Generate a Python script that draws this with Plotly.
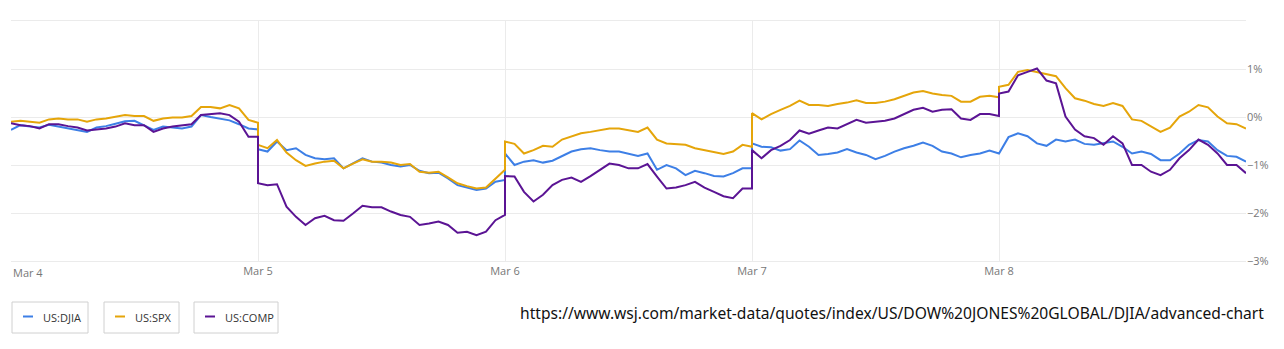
import pandas as pd
import plotly.graph_objects as go

# ---------------- data ----------------
DAYS = ["Mar 4", "Mar 5", "Mar 6", "Mar 7", "Mar 8"]
SESSION_OPEN = "09:30"
SESSION_CLOSE = "16:00"
STEP_MIN = 15

SERIES_NAMES = ["US:DJIA", "US:SPX", "US:COMP"]

# % change, one row per session (15-minute samples, 09:30 .. 16:00)
DJIA = [
    -0.27, -0.17, -0.20, -0.22, -0.16, -0.20, -0.24, -0.28, -0.31, -0.22, -0.19, -0.14, -0.09, -0.08, -0.17, -0.27, -0.20, -0.22, -0.24, -0.20, 0.04, 0.00, -0.03, -0.07, -0.15, -0.24, -0.26,
    -0.67, -0.72, -0.51, -0.69, -0.65, -0.79, -0.86, -0.88, -0.86, -1.07, -0.97, -0.86, -0.93, -0.95, -1.00, -1.03, -1.00, -1.12, -1.17, -1.16, -1.28, -1.42, -1.47, -1.52, -1.49, -1.35, -1.31,
    -0.76, -1.00, -0.93, -0.90, -0.95, -0.91, -0.81, -0.72, -0.67, -0.65, -0.69, -0.72, -0.72, -0.76, -0.81, -0.76, -1.10, -1.00, -1.07, -1.21, -1.12, -1.17, -1.23, -1.24, -1.17, -1.07, -1.07,
    -0.55, -0.62, -0.63, -0.70, -0.67, -0.49, -0.62, -0.79, -0.77, -0.74, -0.67, -0.74, -0.79, -0.88, -0.81, -0.72, -0.65, -0.60, -0.53, -0.60, -0.72, -0.76, -0.84, -0.79, -0.76, -0.70, -0.76,
    -0.76, -0.42, -0.34, -0.40, -0.55, -0.60, -0.47, -0.51, -0.47, -0.56, -0.58, -0.55, -0.51, -0.62, -0.76, -0.72, -0.77, -0.90, -0.90, -0.76, -0.58, -0.48, -0.51, -0.69, -0.81, -0.83, -0.93,
]
SPX = [
    -0.10, -0.08, -0.10, -0.12, -0.05, -0.03, -0.05, -0.05, -0.10, -0.05, -0.03, 0.01, 0.04, 0.02, 0.02, -0.08, -0.03, -0.01, -0.01, 0.02, 0.21, 0.21, 0.18, 0.25, 0.18, -0.06, -0.12,
    -0.58, -0.65, -0.48, -0.74, -0.90, -1.02, -0.97, -0.93, -0.91, -1.07, -0.97, -0.88, -0.93, -0.93, -0.95, -1.00, -0.98, -1.14, -1.16, -1.14, -1.26, -1.38, -1.44, -1.49, -1.47, -1.28, -1.10,
    -0.51, -0.56, -0.76, -0.69, -0.60, -0.62, -0.47, -0.40, -0.34, -0.31, -0.27, -0.24, -0.24, -0.28, -0.31, -0.22, -0.47, -0.55, -0.56, -0.58, -0.65, -0.69, -0.74, -0.77, -0.72, -0.58, -0.62,
    0.08, -0.05, 0.06, 0.15, 0.23, 0.34, 0.25, 0.25, 0.23, 0.27, 0.30, 0.35, 0.29, 0.29, 0.32, 0.37, 0.44, 0.51, 0.54, 0.49, 0.46, 0.44, 0.32, 0.32, 0.42, 0.44, 0.41,
    0.63, 0.67, 0.94, 0.98, 0.94, 0.90, 0.85, 0.60, 0.39, 0.34, 0.27, 0.23, 0.29, 0.23, -0.05, -0.08, -0.20, -0.31, -0.22, 0.01, 0.11, 0.25, 0.20, 0.01, -0.13, -0.15, -0.24,
]
COMP = [
    -0.13, -0.17, -0.19, -0.24, -0.15, -0.15, -0.19, -0.22, -0.28, -0.26, -0.24, -0.20, -0.13, -0.17, -0.17, -0.31, -0.24, -0.20, -0.17, -0.15, 0.04, 0.06, 0.08, 0.04, -0.10, -0.41, -0.41,
    -1.38, -1.42, -1.40, -1.87, -2.08, -2.25, -2.11, -2.06, -2.15, -2.16, -2.01, -1.85, -1.88, -1.88, -1.97, -2.04, -2.08, -2.25, -2.22, -2.18, -2.25, -2.41, -2.39, -2.46, -2.39, -2.15, -2.04,
    -1.23, -1.24, -1.56, -1.76, -1.62, -1.42, -1.31, -1.26, -1.35, -1.23, -1.10, -0.97, -1.00, -1.07, -1.07, -0.98, -1.24, -1.49, -1.47, -1.42, -1.35, -1.47, -1.56, -1.65, -1.69, -1.49, -1.49,
    -0.69, -0.86, -0.69, -0.60, -0.48, -0.28, -0.35, -0.28, -0.22, -0.24, -0.15, -0.06, -0.12, -0.10, -0.08, -0.03, 0.06, 0.15, 0.19, 0.11, 0.15, 0.16, -0.03, -0.06, 0.06, 0.06, 0.02,
    0.49, 0.53, 0.87, 0.94, 1.01, 0.76, 0.70, 0.01, -0.26, -0.40, -0.44, -0.58, -0.40, -0.55, -1.00, -1.00, -1.14, -1.21, -1.10, -0.86, -0.69, -0.47, -0.58, -0.76, -1.00, -1.00, -1.17,
]

Y_TICKS = [-3, -2, -1, 0, 1]
Y_TICK_LABELS = ["\u22123%", "\u22122%", "\u22121%", "0%", "1%"]
Y_RANGE = [-3, 2]
SOURCE_URL = "https://www.wsj.com/market-data/quotes/index/US/DOW%20JONES%20GLOBAL/DJIA/advanced-chart"

# ---------------- styles ----------------
COLORS = {"US:DJIA": "#3d7fe6", "US:SPX": "#e5a50a", "US:COMP": "#5b1494"}
GRID = "#ebebeb"
FONT = "Open Sans"

# session time axis: each trading session occupies one unit
times = pd.date_range(f"2024-01-01 {SESSION_OPEN}", f"2024-01-01 {SESSION_CLOSE}", freq=f"{STEP_MIN}min")
session_len = (times[-1] - times[0]).total_seconds()
frac = [(t - times[0]).total_seconds() / session_len for t in times]
x_vals = [d + f for d in range(len(DAYS)) for f in frac]

series = {"US:DJIA": DJIA, "US:SPX": SPX, "US:COMP": COMP}

fig = go.Figure()
for name in SERIES_NAMES:
    fig.add_trace(go.Scatter(
        x=x_vals, y=series[name], mode="lines", name=name,
        line=dict(color=COLORS[name], width=2), showlegend=False,
    ))

fig.update_layout(
    width=1284, height=349,
    margin=dict(l=11, r=38, t=21, b=88),
    paper_bgcolor="white", plot_bgcolor="white",
    font=dict(family=FONT, color="#777", size=11),
)
fig.update_xaxes(
    range=[0, len(DAYS)],
    tickvals=list(range(len(DAYS))),
    ticktext=[""] + DAYS[1:],
    showgrid=True, gridcolor=GRID, gridwidth=1,
    showline=True, mirror=True, linecolor=GRID, linewidth=1,
    zeroline=False, ticks="", tickfont=dict(size=11, color="#777"),
)
fig.update_yaxes(
    side="right", range=Y_RANGE, tickvals=Y_TICKS, ticktext=Y_TICK_LABELS,
    showgrid=True, gridcolor=GRID, gridwidth=1, zeroline=False,
    showline=False, ticks="", tickfont=dict(size=11, color="#777"),
)

# first day label, kept inside the chart
fig.add_annotation(x=0, y=0, xref="x", yref="paper", text=DAYS[0], showarrow=False,
                   xanchor="left", yanchor="top", yshift=-2,
                   font=dict(size=11, color="#777", family=FONT))

# legend boxes
boxes = [(12, 88), (104, 179), (194, 278)]
for (x0, x1), name in zip(boxes, SERIES_NAMES):
    fig.add_shape(type="rect", xref="paper", yref="paper",
                  x0=(x0 - 11) / 1235, x1=(x1 - 11) / 1235,
                  y0=(261 - 333) / 240, y1=(261 - 302) / 240,
                  line=dict(color="#d0d0d0", width=1), fillcolor="white")
    fig.add_shape(type="line", xref="paper", yref="paper",
                  x0=(x0 + 11 - 11) / 1235, x1=(x0 + 21 - 11) / 1235,
                  y0=(261 - 316.5) / 240, y1=(261 - 316.5) / 240,
                  line=dict(color=COLORS[name], width=2))
    fig.add_annotation(x=(x0 + 29 - 11) / 1235, y=(261 - 317) / 240, xref="paper", yref="paper",
                       text=name, showarrow=False, xanchor="left", yanchor="middle",
                       font=dict(size=11, color="#333", family=FONT))

fig.add_annotation(x=(1266 - 11) / 1235, y=(261 - 313) / 240, xref="paper", yref="paper",
                   text=SOURCE_URL, showarrow=False, xanchor="right", yanchor="middle",
                   font=dict(size=15.6, color="#111", family="Noto Sans"))

fig.write_html("out.html")
